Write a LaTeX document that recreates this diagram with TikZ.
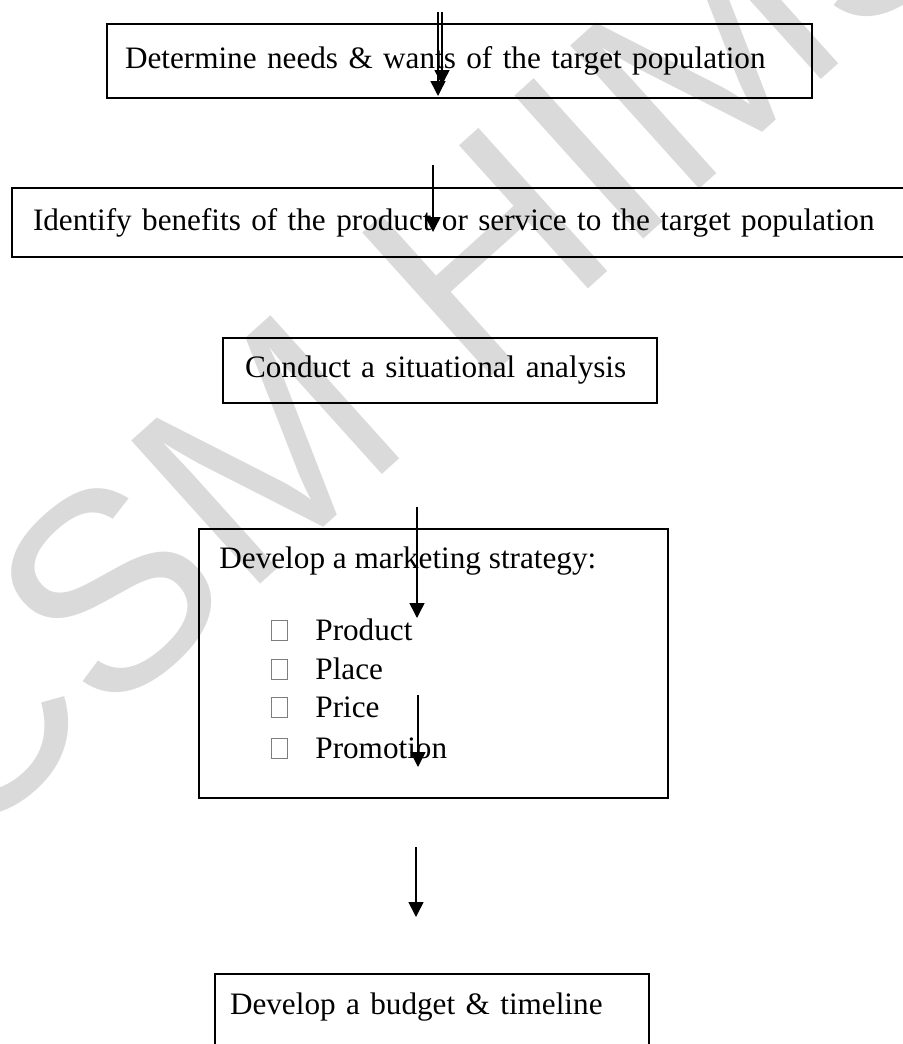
\documentclass[tikz,border=0pt]{standalone}
\usepackage{fontspec}
\setmainfont{Liberation Serif}
\newfontfamily\marksans{Liberation Sans}
\usepackage{xcolor}
\usetikzlibrary{arrows.meta,positioning}
\definecolor{markgrey}{RGB}{218,218,218}
\definecolor{tickgrey}{RGB}{125,125,125}
\tikzset{
    stepbox/.style={draw, line width=1pt, inner xsep=#1, inner ysep=0pt,
                    align=left, font=\fontsize{15.6}{19}\selectfont},
    stepbox/.default=10pt,
    steptext/.style={anchor=base west, inner sep=0pt,
                     font=\fontsize{15.6}{19}\selectfont},
    tickbox/.style={draw=tickgrey, line width=0.4pt, minimum width=8pt,
                    minimum height=10pt, inner sep=0pt},
    watermark/.style={text=markgrey, rotate=42,
                      font=\marksans\fontsize{140}{140}\selectfont},
}

\begin{document}
\begin{tikzpicture}[
    x=0.5pt, y=-0.5pt,
    arr/.style={-{Triangle[length=7.5pt, width=7.5pt]}, line width=0.75pt}
]
    \useasboundingbox (0,0) rectangle (902,1044);
    \node[watermark] (mark) at (410,320) {CSM HIMS};

    \node[stepbox=9pt, text width=334.5pt, minimum height=37pt] (needs) at (459.5,61)
        {Determine needs \& wants of the target population};
    \node[stepbox=10.5pt, text width=438pt, minimum height=34.5pt] (benefits) at (471,222.5)
        {Identify benefits of the product or service to the target population};
    \node[stepbox=11pt, text width=195pt, minimum height=32.5pt] (situation) at (440,370.5)
        {Conduct a situational analysis};

    \node[draw, line width=1pt, minimum width=234.5pt, minimum height=134.5pt] (strategy) at (433.5,663.5) {};
    \node[steptext] (strategy-title) at (219,568) {Develop a marketing strategy:};
    \foreach \lbl/\yb [count=\i] in {Product/640, Place/679, Price/717, Promotion/758} {
        \node[tickbox] (tick-\i) at (279,\yb-10) {};
        \node[steptext] (item-\i) at (315,\yb) {\lbl};
    }

    \node[stepbox=7.5pt, text width=202pt, text height=10pt, text depth=26pt,
          inner ysep=10pt, anchor=base west] (budget) at (214,1014)
        {Develop a budget \& timeline};

    % arrows
    \coordinate (needs-top1) at (438,12);
    \coordinate (needs-tip1) at (438,96);
    \coordinate (needs-top2) at (442,12);
    \coordinate (needs-tip2) at (442,85);
    \coordinate (benefits-top) at (433,165);
    \coordinate (benefits-tip) at (433,232);
    \coordinate (strategy-top) at (417,507);
    \coordinate (strategy-tip) at (417,618);
    \coordinate (promo-top) at (418,695);
    \coordinate (promo-tip) at (418,767);
    \coordinate (budget-top) at (416,847);
    \coordinate (budget-tip) at (416,917);

    \draw[arr] (needs-top1) -- (needs-tip1);
    \draw[arr] (needs-top2) -- (needs-tip2);
    \draw[arr] (benefits-top) -- (benefits-tip);
    \draw[arr] (strategy-top) -- (strategy-tip);
    \draw[arr] (promo-top) -- (promo-tip);
    \draw[arr] (budget-top) -- (budget-tip);
\end{tikzpicture}
\end{document}
